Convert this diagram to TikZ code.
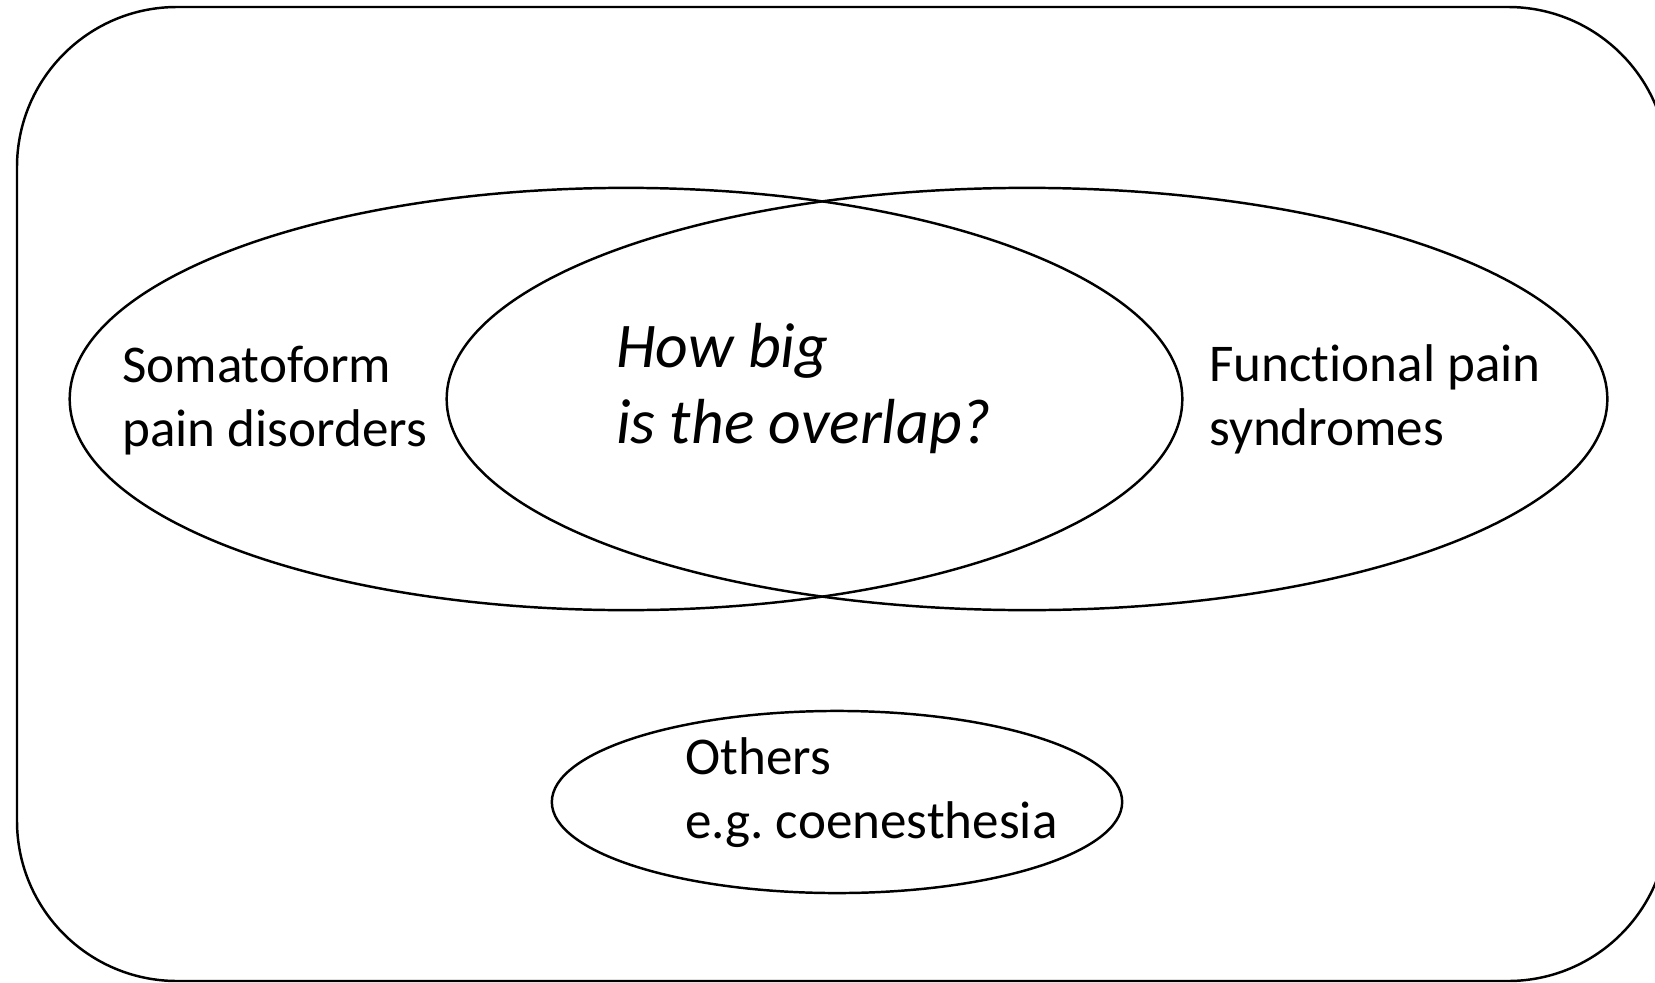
\documentclass[tikz,border=0pt]{standalone}
\usepackage{fontspec}
\setmainfont{Carlito}[Ligatures=NoCommon]
\usetikzlibrary{shapes.geometric,positioning}

\begin{document}
\begin{tikzpicture}[x=0.01cm,y=-0.01cm,line width=0.7pt]
    \tikzset{blob/.style={draw,ellipse,inner sep=0pt}}
    \tikzset{txt/.style={align=left,inner sep=0pt,anchor=base west,font=\fontsize{15.1}{18}\selectfont}}
    \useasboundingbox (0,0) rectangle (1655,982);
    \begin{scope}
      \clip (0,0) rectangle (1655,982);
      \draw[rounded corners=1.6cm] (17,7) rectangle (1668,981);
    \end{scope}
    \node[blob,minimum width=11.12cm,minimum height=4.22cm] (soma) at (626,399) {};
    \node[blob,minimum width=11.6cm,minimum height=4.22cm] (func) at (1027,399) {};
    \node[blob,minimum width=5.7cm,minimum height=1.82cm] (others) at (837,802) {};
    \node[txt] (somatxt) at (121,446) {Somatoform\\pain disorders};
    \node[txt,font=\fontsize{18.1}{21.6}\selectfont\itshape] (overlap) at (615,443) {How big\\is the overlap?};
    \node[txt] (functxt) at (1208,445) {Functional pain\\syndromes};
    \node[txt] (otherstxt) at (684,838) {Others\\e.g.\ coenesthesia};
\end{tikzpicture}
\end{document}
